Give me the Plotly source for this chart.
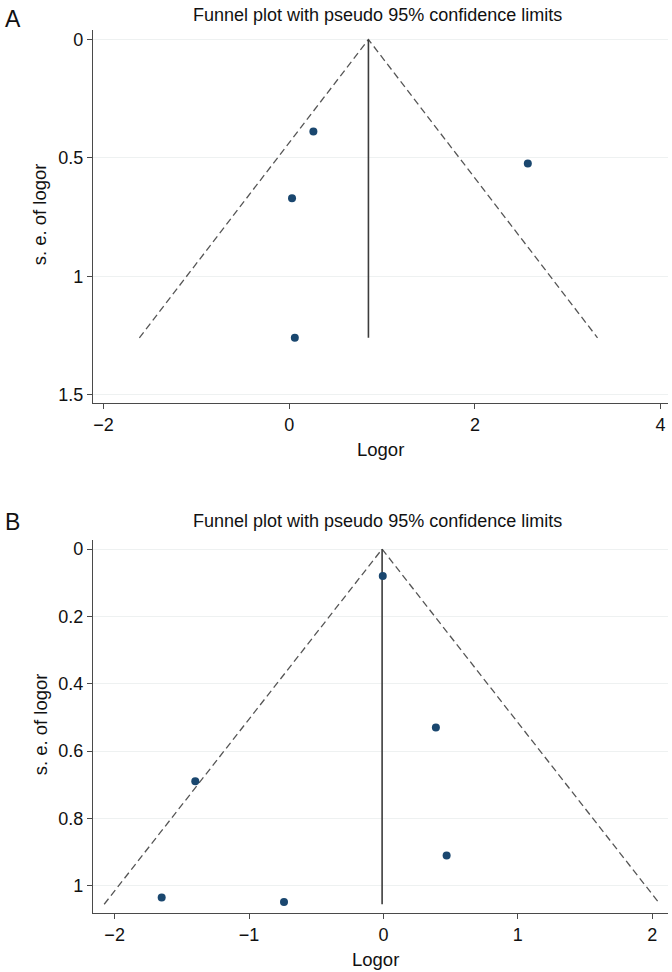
import plotly.graph_objects as go
from plotly.subplots import make_subplots

# Panel A data
a_logor = [0.26, 2.57, 0.03, 0.06]
a_se = [0.388, 0.523, 0.670, 1.259]
a_theta = 0.853
a_semax = 1.259

# Panel B data
b_logor = [-0.005, 0.39, -1.40, 0.47, -1.65, -0.74]
b_se = [0.080, 0.530, 0.690, 0.910, 1.035, 1.048]
b_theta = -0.01
b_semax = 1.055

title_text = "Funnel plot with pseudo 95% confidence limits"
xlabel = "Logor"
ylabel = "s. e. of logor"

FONT = "Liberation Sans, Arial, Helvetica, sans-serif"
MARK = "#1a476f"
TXT = "#111111"

W, H = 672, 972
L, R, T, B = 92.7, 4, 30, 59
PW = W - L - R
PH = H - T - B


def px(x):
    return (x - L) / PW


def py(y):
    return (H - B - y) / PH


fig = make_subplots(rows=2, cols=1, vertical_spacing=0.0)


def add_panel(row, xs, ses, theta, semax):
    fig.add_trace(go.Scatter(x=[theta - 1.96 * semax, theta, theta + 1.96 * semax],
                             y=[semax, 0, semax], mode="lines",
                             line=dict(color="#555555", width=1.3, dash="7px,4px"),
                             showlegend=False, hoverinfo="skip"), row=row, col=1)
    fig.add_trace(go.Scatter(x=[theta, theta], y=[0, semax], mode="lines",
                             line=dict(color="#3c3c3c", width=1.6),
                             showlegend=False, hoverinfo="skip"), row=row, col=1)
    fig.add_trace(go.Scatter(x=xs, y=ses, mode="markers",
                             marker=dict(color=MARK, size=8),
                             showlegend=False), row=row, col=1)


add_panel(1, a_logor, a_se, a_theta, a_semax)
add_panel(2, b_logor, b_se, b_theta, b_semax)

axis_common = dict(showline=True, linecolor="#4a4a4a", linewidth=1.3,
                   ticks="outside", ticklen=5, tickcolor="#4a4a4a", tickwidth=1.2,
                   tickfont=dict(size=18, color=TXT, family=FONT),
                   zeroline=False)

fig.update_xaxes(**axis_common, showgrid=False)
fig.update_yaxes(**axis_common, showgrid=True, gridcolor="#eef1f1", gridwidth=1)

fig.update_xaxes(range=[-2.114, 4.08], tickvals=[-2, 0, 2, 4],
                 ticktext=["\u22122", "0", "2", "4"], row=1, col=1)
fig.update_yaxes(range=[1.534, -0.04], tickvals=[0, 0.5, 1, 1.5],
                 ticktext=["0", "0.5", "1", "1.5"], row=1, col=1,
                 domain=[py(403), 1.0])
fig.update_xaxes(range=[-2.161, 2.117], tickvals=[-2, -1, 0, 1, 2],
                 ticktext=["\u22122", "\u22121", "0", "1", "2"], row=2, col=1)
fig.update_yaxes(range=[1.081, -0.027], tickvals=[0, 0.2, 0.4, 0.6, 0.8, 1],
                 ticktext=["0", "0.2", "0.4", "0.6", "0.8", "1"], row=2, col=1,
                 domain=[0.0, py(540)])


def note(text, x, y, size, angle=0):
    return dict(text=text, x=px(x), y=py(y), xref="paper", yref="paper",
                showarrow=False, xanchor="center", yanchor="middle", textangle=angle,
                font=dict(size=size, color=TXT, family=FONT))


ann = [
    note(title_text, 377, 15, 18),
    note("A", 12.5, 19.5, 23),
    note(xlabel, 380, 449, 18.5),
    note(ylabel, 40, 214, 18.5, -90),
    note(title_text, 377, 521, 18),
    note("B", 12.5, 521.5, 23),
    note(xlabel, 375, 959, 18.5),
    note(ylabel, 40, 724, 18.5, -90),
]

fig.update_layout(width=W, height=H, margin=dict(l=L, r=R, t=T, b=B),
                  paper_bgcolor="white", plot_bgcolor="white",
                  annotations=ann, font=dict(family=FONT))

fig.write_html("out.html",
               config={"displayModeBar": False},
               post_script="document.body.style.margin='0';"
                           "document.body.style.overflow='hidden';"
                           "document.documentElement.style.overflow='hidden';")
